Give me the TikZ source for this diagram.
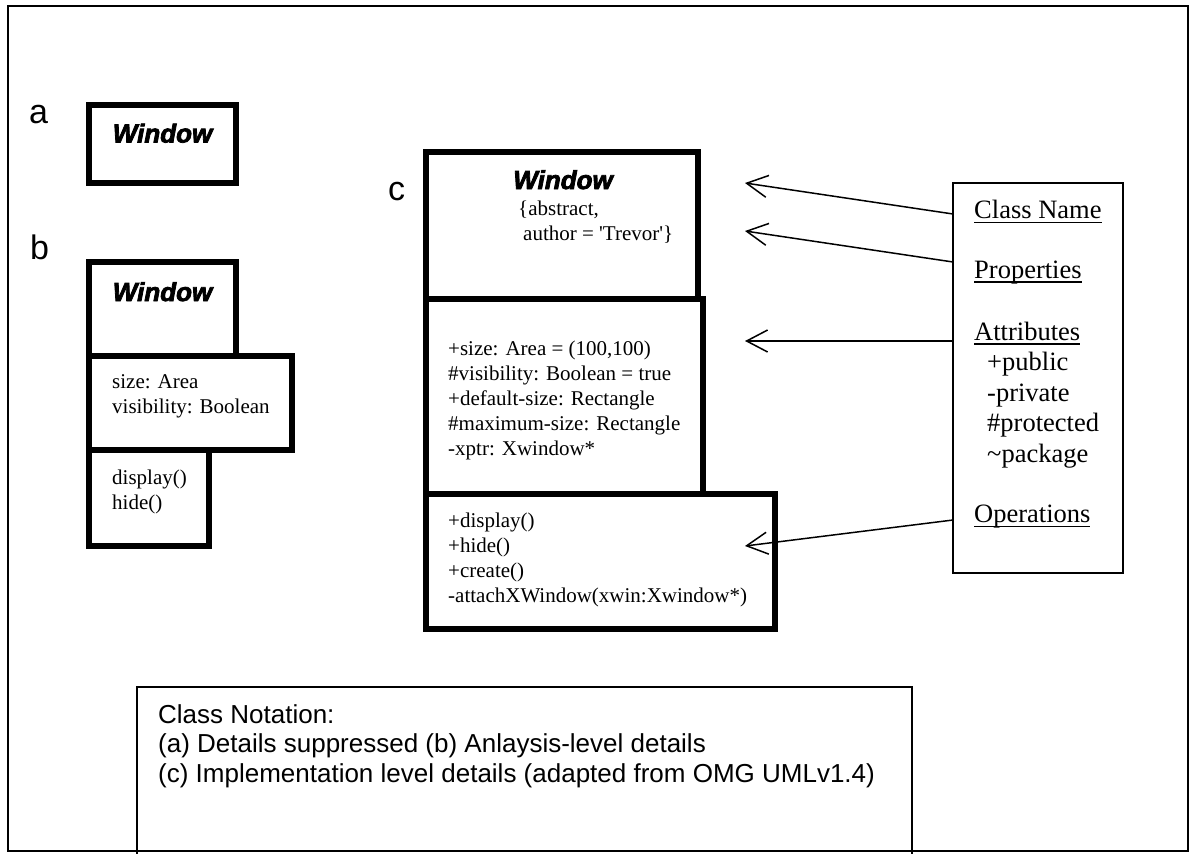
\documentclass[tikz,border=0pt]{standalone}
\usepackage{fontspec}
\setmainfont{Liberation Serif}
\newfontfamily\arialfont{Liberation Sans}
\newfontfamily\winfont{Liberation Sans}[BoldItalicFeatures={FakeBold=3}]
\usetikzlibrary{arrows.meta}
% underline at a fixed depth below the baseline
\newcommand\uln[1]{\setbox0\hbox{#1}\rlap{\rule[-4.6pt]{\wd0}{1.6pt}}\box0}

% multi-line texts are placed by the baseline of their last line
\tikzset{
  compartment/.style={draw, line width=6pt, rectangle, inner sep=0pt, outer sep=0pt},
  thinbox/.style={draw, line width=1.8pt, rectangle, inner sep=0pt, outer sep=0pt},
  clsname/.style={font=\winfont\bfseries\itshape\fontsize{26}{30}\selectfont, anchor=base, inner sep=0pt},
  member/.style={font=\fontsize{21}{25}\selectfont, anchor=base west, inner sep=0pt, align=left},
  legendtxt/.style={font=\fontsize{26.5}{30.5}\selectfont, anchor=base west, inner sep=0pt, align=left},
  tag/.style={font=\arialfont\fontsize{34}{40}\selectfont, anchor=base west, inner sep=0pt},
  pointer/.style={line width=1.5pt, -{Straight Barb[length=21pt,width=22pt]}},
}

\begin{document}
\begin{tikzpicture}[x=1pt, y=-1pt]
\useasboundingbox (0,0) rectangle (1189,854);
\begin{scope}
\clip (0,0) rectangle (1189,854);

% outer frame
\node (frame) [thinbox, line width=2pt, minimum width=1180, minimum height=845] at (598,428.5) {};

% view labels
\node (la) [tag] at (29,123) {a};
\node (lb) [tag] at (30,259) {b};
\node (lc) [tag] at (388,200) {c};

% (a) details suppressed
\node (aname) [compartment, minimum width=147, minimum height=78] at (162.5,144) {};
\node (atitle) [clsname] at (162.5,142.5) {Window};

% (b) analysis-level details
\node (bname) [compartment, minimum width=147, minimum height=94] at (162.5,309) {};
\node (battr) [compartment, minimum width=203, minimum height=94] at (190.5,403) {};
\node (bops)  [compartment, minimum width=120, minimum height=96] at (149,498) {};
\node (btitle) [clsname] at (162.5,301) {Window};
\node (battrtxt) [member] at (112,413.5) {size: Area\\visibility: Boolean};
\node (bopstxt) [member] at (112,509.5) {display()\\hide()};

% (c) implementation-level details
\node (cname) [compartment, minimum width=272, minimum height=147] at (562,225.5) {};
\node (cattr) [compartment, minimum width=277, minimum height=195] at (564.5,396.5) {};
\node (cops)  [compartment, minimum width=349, minimum height=135] at (600.5,561.5) {};
\node (ctitle) [clsname] at (563,189) {Window};
\node (cprop1) [member] at (518,215) {\{abstract,};
\node (cprop2) [member] at (523,240) {author = \textquotesingle Trevor\textquotesingle\}};
\node (cattrtxt) [member] at (448,455) {+size: Area = (100,100)\\\#visibility: Boolean = true\\+default-size: Rectangle\\\#maximum-size: Rectangle\\-xptr: Xwindow*};
\node (copstxt) [member] at (448,602) {+display()\\+hide()\\+create()\\-attachXWindow(xwin:Xwindow*)};

% legend
\node (legend) [thinbox, minimum width=170, minimum height=390] at (1038,378) {};
\node (lgname) [legendtxt] at (974,218.5) {\uln{Class Name}};
\node (lgprop) [legendtxt] at (974,278) {\uln{Properties}};
\node (lgattr) [legendtxt] at (974,340) {\uln{Attributes}};
\node (lgvis) [legendtxt] at (987,462) {+public\\-private\\\#protected\\\textasciitilde package};
\node (lgops) [legendtxt] at (974,522.5) {\uln{Operations}};

% pointers from the legend to the compartments
\coordinate (s1) at (953,214);
\coordinate (s2) at (953,262);
\coordinate (s3) at (953,341);
\coordinate (s4) at (953,520);
\coordinate (t1) at (745,183);
\coordinate (t2) at (745,231);
\coordinate (t3) at (745,341);
\coordinate (t4) at (745,546);
\draw[pointer] (s1) -- (t1);
\draw[pointer] (s2) -- (t2);
\draw[pointer] (s3) -- (t3);
\draw[pointer] (s4) -- (t4);

% caption
\node (caption) [thinbox, minimum width=775, minimum height=220] at (524.5,797) {};
\node (captxt) [font=\arialfont\fontsize{26}{29.5}\selectfont, anchor=base west, inner sep=0pt, align=left] at (158,782)
  {Class Notation:\\(a) Details suppressed (b) Anlaysis-level details\\(c) Implementation level details (adapted from OMG UMLv1.4)};
\end{scope}
\end{tikzpicture}
\end{document}
